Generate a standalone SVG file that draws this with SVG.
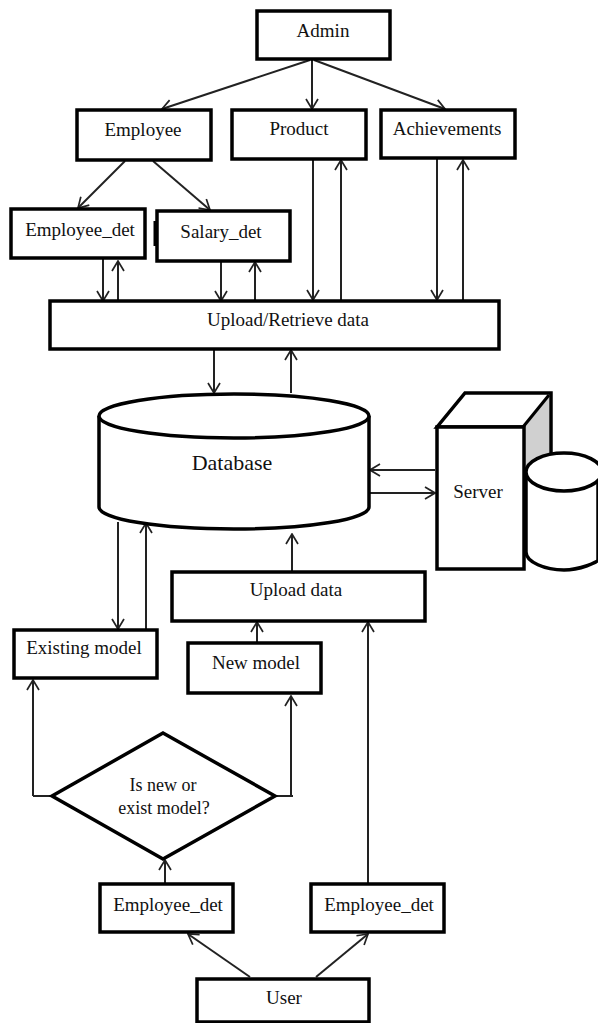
<svg xmlns="http://www.w3.org/2000/svg" width="598" height="1023" viewBox="0 0 598 1023">
<defs>
<marker id="a" viewBox="0 0 12 14" refX="11" refY="7" markerWidth="12" markerHeight="14" markerUnits="userSpaceOnUse" orient="auto"><path d="M1,1 L11,7 L1,13" fill="none" stroke="#222" stroke-width="1.7"/></marker>
</defs>
<style>
.b{fill:#fff;stroke:#000;stroke-width:3.5}
.c{fill:none;stroke:#222;stroke-width:2;marker-end:url(#a)}
.p{fill:none;stroke:#222;stroke-width:2}
text{font-family:"Liberation Serif",serif;font-size:19px;fill:#111;text-anchor:middle}
</style>
<rect width="598" height="1023" fill="#fff"/>
<g id="connectors">
<path class="c" d="M310,60 L162,109"/>
<path class="c" d="M312,60 L312,109"/>
<path class="c" d="M314,60 L445,109"/>
<path class="c" d="M125,161 L78,208"/>
<path class="c" d="M153,161 L210,210"/>
<path class="c" d="M103,259 L103,301"/>
<path class="c" d="M118,301 L118,261"/>
<path class="c" d="M221,261 L221,301"/>
<path class="c" d="M255,301 L255,262"/>
<path class="c" d="M313,159 L313,300"/>
<path class="c" d="M341,300 L341,160"/>
<path class="c" d="M437,159 L437,300"/>
<path class="c" d="M463,300 L463,160"/>
<path class="c" d="M214,350 L214,393"/>
<path class="c" d="M291,393 L291,350"/>
<path class="c" d="M435,470 L370,470"/>
<path class="c" d="M370,493 L435,493"/>
<path class="c" d="M118,522 L118,629"/>
<path class="c" d="M146,629 L146,523"/>
<path class="c" d="M292,572 L292,534"/>
<path class="c" d="M257,642 L257,622"/>
<path class="c" d="M33,796 L33,680"/>
<path class="p" d="M33,796 L52,796"/>
<path class="c" d="M291,796 L291,696"/>
<path class="p" d="M275,796 L293,796"/>
<path class="c" d="M368,883 L368,622"/>
<path class="c" d="M165,883 L165,860"/>
<path class="c" d="M250,977 L188,934"/>
<path class="c" d="M316,977 L368,934"/>
</g>
<g id="admin"><rect class="b" x="257" y="11" width="133" height="48"/><text x="323" y="37">Admin</text></g>
<g id="employee"><rect class="b" x="77" y="110" width="134" height="50"/><text x="143" y="136">Employee</text></g>
<g id="product"><rect class="b" x="232" y="110" width="134" height="49"/><text x="299" y="135">Product</text></g>
<g id="achievements"><rect class="b" x="381" y="110" width="134" height="48"/><text x="447" y="135">Achievements</text></g>
<g id="employee-det-top"><rect class="b" x="11" y="209" width="134" height="49"/><text x="80" y="236">Employee_det</text></g>
<g id="salary-det"><path d="M155,221 V246" stroke="#000" stroke-width="3"/><rect class="b" x="157" y="211" width="133" height="50"/><text x="221" y="238">Salary_det</text></g>
<g id="upload-retrieve"><rect class="b" x="50" y="301" width="449" height="48"/><text x="288" y="326">Upload/Retrieve data</text></g>
<g id="database"><path class="b" d="M99,416 V507 A135,22 0 0 0 369,507 V416"/><ellipse class="b" cx="234" cy="416" rx="135" ry="22"/><text x="232" y="470" style="font-size:22px">Database</text></g>
<g id="server">
<path d="M437,427 L465,393 H551 V460 H523 V427 Z" fill="#fff" stroke="#000" stroke-width="3.5"/>
<path d="M524,427 L549,395 V460 L524,560 Z" fill="#d0d0d0"/>
<path d="M549,395 L523,427" fill="none" stroke="#000" stroke-width="3"/>
<rect class="b" x="437" y="427" width="87" height="142"/>
<text x="478" y="498">Server</text>
<path class="b" d="M526,472 V552 C526,562 545,570 564,570 C580,570 598,562 598,560 V472 Z"/>
<ellipse class="b" cx="564" cy="472" rx="38" ry="19"/>
</g>
<g id="upload-data"><rect class="b" x="172" y="572" width="253" height="49"/><text x="296" y="596">Upload data</text></g>
<g id="existing-model"><rect class="b" x="14" y="630" width="143" height="48"/><text x="84" y="654">Existing model</text></g>
<g id="new-model"><rect class="b" x="188" y="643" width="133" height="50"/><text x="256" y="669">New model</text></g>
<g id="decision"><path class="b" d="M163,733 L275,796 L163,859 L52,796 Z"/><text x="163" y="791" style="font-size:18px">Is new or</text><text x="164" y="814" style="font-size:18px">exist model?</text></g>
<g id="employee-det-left"><rect class="b" x="100" y="884" width="133" height="48"/><text x="168" y="911">Employee_det</text></g>
<g id="employee-det-right"><rect class="b" x="311" y="884" width="133" height="48"/><text x="379" y="911">Employee_det</text></g>
<g id="user"><rect class="b" x="197" y="979" width="172" height="43"/><text x="284" y="1004">User</text></g>
</svg>
